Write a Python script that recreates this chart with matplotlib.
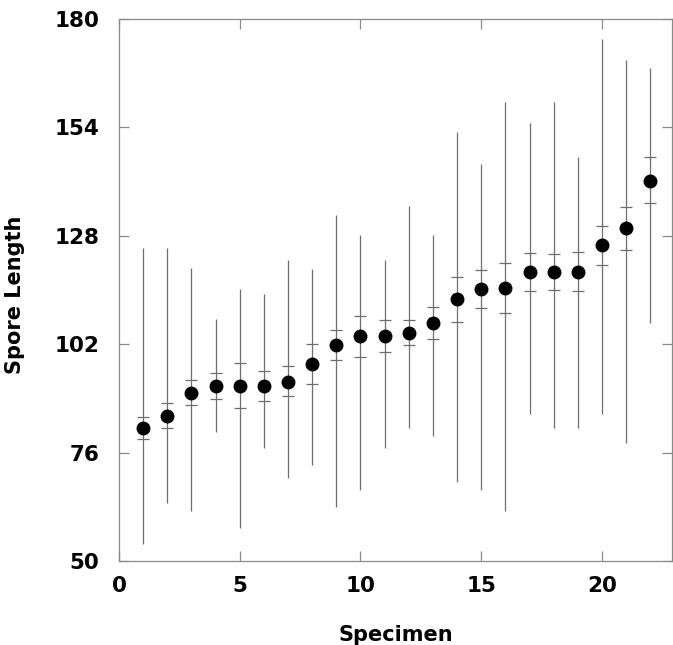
import matplotlib.pyplot as plt
import numpy as np

# Spore length per specimen: mean, confidence limits and observed range
specimen = np.arange(1, 23)
mean_len = [82.0, 84.8, 90.4, 92.0, 92.0, 92.0, 93.0, 97.2, 101.7, 103.9, 103.9,
            104.6, 107.1, 112.8, 115.3, 115.5, 119.3, 119.3, 119.4, 125.7, 129.8, 141.2]
ci_upper = [84.6, 87.8, 93.4, 95.1, 97.4, 95.6, 96.7, 102.1, 105.3, 108.8, 107.7,
            107.7, 111.0, 118.2, 119.9, 121.5, 123.8, 123.7, 124.1, 130.3, 134.9, 146.8]
ci_lower = [79.3, 82.0, 87.4, 88.8, 86.6, 88.5, 89.6, 92.4, 98.1, 99.0, 100.1,
            101.9, 103.2, 107.3, 110.8, 109.5, 114.7, 115.0, 114.7, 121.0, 124.5, 135.8]
range_max = [125.1, 125.1, 120.2, 108.0, 115.2, 114.1, 122.1, 120.1, 133.1, 128.2, 122.1,
             135.1, 128.2, 153.0, 145.2, 160.0, 155.0, 160.0, 147.0, 175.1, 170.1, 168.2]
range_min = [54.0, 64.0, 62.0, 80.9, 58.0, 77.0, 69.9, 73.0, 63.0, 67.0, 77.0,
             82.0, 80.0, 68.9, 67.0, 62.0, 85.2, 82.0, 82.0, 85.2, 78.2, 107.2]

x_ticks = [0, 5, 10, 15, 20]
y_ticks = [50, 76, 102, 128, 154, 180]

plt.rcParams['font.family'] = ['DejaVu Sans']

fig = plt.figure(figsize=(6.73, 6.45), dpi=100)
ax = fig.add_axes([0.1768, 0.1302, 0.8217, 0.8403])

line_col = '#6e6e6e'
ax.vlines(specimen, range_min, range_max, color=line_col, linewidth=0.9)
ax.plot(specimen, ci_upper, linestyle='none', marker='_', markersize=9,
        markeredgewidth=0.9, color=line_col)
ax.plot(specimen, ci_lower, linestyle='none', marker='_', markersize=9,
        markeredgewidth=0.9, color=line_col)
ax.plot(specimen, mean_len, linestyle='none', marker='o', markersize=9,
        color='black', zorder=3)

ax.set_xlim(0, 22.9)
ax.set_ylim(50, 180)
ax.set_xticks(x_ticks)
ax.set_yticks(y_ticks)

for s in ax.spines.values():
    s.set_color('#8a8a8a')
    s.set_linewidth(0.9)

ax.tick_params(axis='both', direction='in', length=7, width=0.9, color='#8a8a8a',
               top=True, right=True, labelsize=15.5)
ax.tick_params(axis='y', pad=14)
ax.tick_params(axis='x', pad=11)
for lab in ax.get_xticklabels() + ax.get_yticklabels():
    lab.set_fontweight('bold')

ax.set_xlabel('Specimen', fontsize=15, fontweight='bold')
ax.set_ylabel('Spore Length', fontsize=15, fontweight='bold')
ax.xaxis.set_label_coords(0.5, -0.118)
ax.yaxis.set_label_coords(-0.170, 0.491)

fig.savefig('out.png', dpi=100)
